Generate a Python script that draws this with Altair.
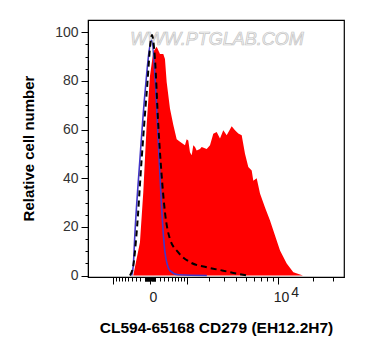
import altair as alt
import pandas as pd

# Sample (red filled) histogram
red_x = [-367, -206, -134, -64, 0, 64, 134, 206, 283, 324, 367, 454, 547, 649, 754, 926, 988,
         1049, 1115, 1184, 1250, 1323, 1398, 1551, 1633, 1892, 2076, 2272, 2487, 2709, 2946,
         3205, 3618, 3913, 4226, 4569, 4924, 5302, 5716, 5920, 6374, 6846, 7616, 8462, 9390,
         10410, 11930, 13640, 16550]
red_y = [0, 13.7, 34, 62, 82, 92, 94, 91, 91, 89, 79.5, 68.6, 62, 56, 55, 53.5, 56,
         55.5, 50.7, 49.4, 53.5, 52.8, 51.4, 52, 52.8, 52, 53.5, 58.3, 59, 56.3, 59.7,
         57.6, 61.3, 59.7, 58.4, 57.6, 50, 44.6, 43.2, 39, 40, 33.7, 28, 22.6, 16.5,
         10.3, 4.9, 1.4, 0]

# Isotype control (blue line)
blue_x = [-409, -367, -324, -206, -98, 32, 98, 168, 245, 324, 454, 699, 1900]
blue_y = [0, 4, 17.7, 48, 75, 96.7, 82, 55, 27.5, 9.6, 2, 0.3, 0]

# Unstained control (black dashed line)
black_x = [-454, -367, -283, -168, -64, 38, 67, 98, 168, 245, 324, 454, 699, 1115, 1892, 2940, 4071, 5150]
black_y = [0, 4, 17.7, 48, 75, 98.8, 96, 89, 62, 41, 26, 15, 9.5, 5.5, 3.4, 2, 0.8, 0]

x_major = [-1000, 0, 1000, 10000]
x_minor = ([-v for v in range(10, 100, 10)] + [-v for v in range(100, 1000, 100)]
           + list(range(10, 100, 10)) + list(range(100, 1000, 100))
           + list(range(2000, 10000, 1000)) + [20000, 30000])
y_major = [0, 20, 40, 60, 80, 100]
y_minor = [v for v in range(5, 100, 5) if v % 20 != 0]

xdom = [-2190, 36800]
ydom = [-0.6, 105]

xscale = alt.Scale(type="symlog", constant=1000, domain=xdom, nice=False, zero=False)
yscale = alt.Scale(domain=ydom, nice=False, zero=False)

red = pd.DataFrame({"x": red_x, "y": red_y})
blue = pd.DataFrame({"x": blue_x, "y": blue_y})
black = pd.DataFrame({"x": black_x, "y": black_y})

xaxis_major = alt.Axis(
    orient="bottom", values=x_major, grid=False, domainColor="black", tickColor="black", tickSize=7,
    labelExpr="datum.value == 0 ? '0' : datum.value == 10000 ? '10' : ''",
    labelFont="Liberation Sans", labelFontSize=14, labelColor="#222", labelOffset=3,
    labelPadding=6, labelBaseline="top", labelFlush=False, labelOverlap=False,
    title="CL594-65168 CD279 (EH12.2H7)", titleFont="Liberation Sans", titleFontSize=15.5,
    titleFontWeight="bold", titleColor="black", titleX=128, titleY=50, titleBaseline="middle",
)
xaxis_minor = alt.Axis(
    orient="bottom", values=x_minor, grid=False, domain=False, tickColor="black", tickSize=4,
    labels=False, title=None,
)
yaxis_major = alt.Axis(
    orient="left", values=y_major, grid=False, domainColor="black", tickColor="black", tickSize=7,
    labelFont="Liberation Sans", labelFontSize=14, labelColor="#333", labelPadding=3,
    labelOverlap=False, labelFlush=False,
    title="Relative cell number", titleFont="Liberation Sans", titleFontSize=15,
    titleFontWeight="bold", titleColor="black", titleX=-60, titleY=128, titleAngle=-90,
    titleBaseline="middle", titleAlign="center",
)
yaxis_minor = alt.Axis(
    orient="left", values=y_minor, grid=False, domain=False, tickColor="black", tickSize=3,
    labels=False, title=None,
)

watermark = alt.Chart(pd.DataFrame({"t": ["WWW.PTGLAB.COM"]})).mark_text(
    font="Liberation Sans", fontSize=18, fontStyle="italic", fill="#f4f4f4",
    stroke="#c4c4c4", strokeWidth=0.7, align="center", baseline="middle",
).encode(x=alt.value(129), y=alt.value(20), text="t:N")

area = alt.Chart(red).mark_area(color="#ff0000", opacity=1, interpolate="linear").encode(
    x=alt.X("x:Q", scale=xscale, axis=xaxis_major),
    y=alt.Y("y:Q", scale=yscale, axis=yaxis_major),
)
bline = alt.Chart(blue).mark_line(color="#4336c8", strokeWidth=1.6, interpolate="monotone").encode(
    x=alt.X("x:Q", scale=xscale, axis=xaxis_minor),
    y=alt.Y("y:Q", scale=yscale, axis=yaxis_minor),
)
kline = alt.Chart(black).mark_line(color="black", strokeWidth=2, strokeDash=[6, 4], interpolate="monotone").encode(
    x=alt.X("x:Q", scale=xscale, axis=None), y=alt.Y("y:Q", scale=yscale, axis=None)
)
sup = alt.Chart(pd.DataFrame({"x": [10000], "y": [ydom[0]], "t": ["4"]})).mark_text(
    font="Liberation Sans", fontSize=14, color="#222", align="center", baseline="top", dx=17, dy=9,
).encode(x=alt.X("x:Q", scale=xscale, axis=None), y=alt.Y("y:Q", scale=yscale, axis=None), text="t:N")

chart = alt.layer(watermark, area, bline, kline, sup).resolve_axis(
    x="independent", y="independent"
).properties(
    width=256, height=257,
    padding={"left": 80, "top": 12, "right": 10, "bottom": 70},
    autosize=alt.AutoSizeParams(type="none"),
).configure_view(stroke="black", strokeWidth=1.2)

chart.save("out.html", embed_options={"renderer": "svg", "actions": False})
